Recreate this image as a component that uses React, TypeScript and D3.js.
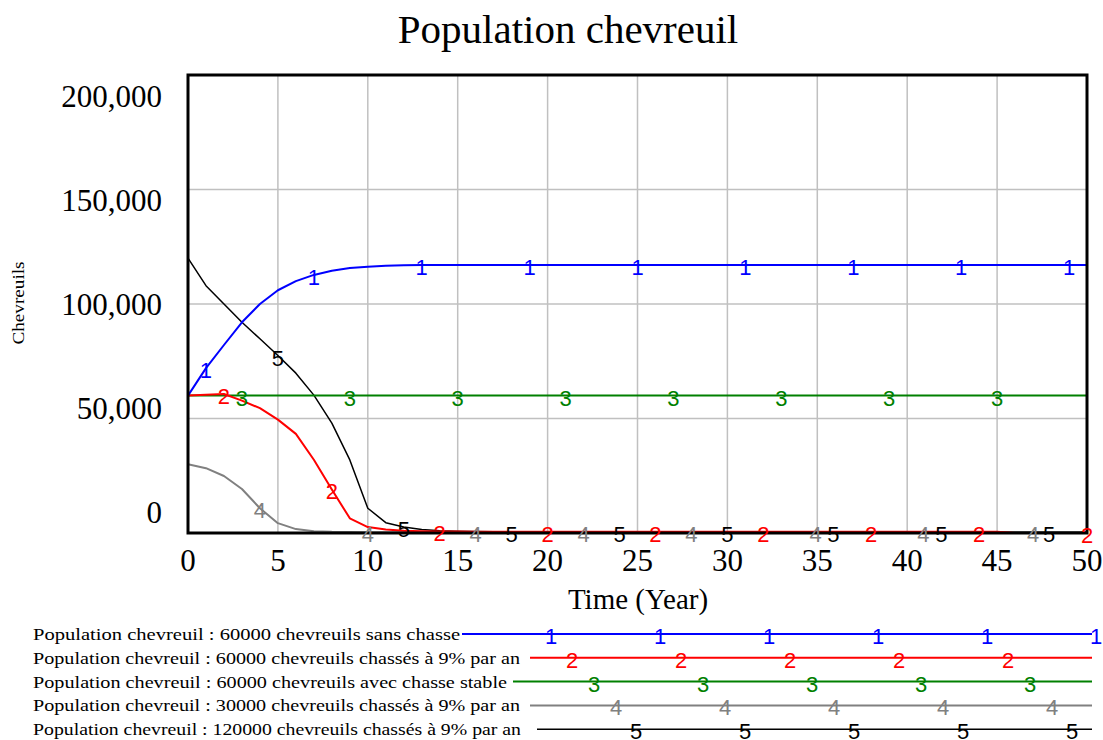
import React from "react";
import * as d3 from "d3";

const years: number[] = d3.range(0, 51);

const seriesNames = [
  "Population chevreuil : 60000 chevreuils sans chasse",
  "Population chevreuil : 60000 chevreuils chassés à 9% par an",
  "Population chevreuil : 60000 chevreuils avec chasse stable",
  "Population chevreuil : 30000 chevreuils chassés à 9% par an",
  "Population chevreuil : 120000 chevreuils chassés à 9% par an",
];

const sansChasse60k = [
  60000, 72000, 82100, 92000, 100000, 106000, 110000, 112700, 114500, 115700,
  116300, 116700, 116900, 117000, 117000, 117000, 117000, 117000, 117000, 117000,
  117000, 117000, 117000, 117000, 117000, 117000, 117000, 117000, 117000, 117000,
  117000, 117000, 117000, 117000, 117000, 117000, 117000, 117000, 117000, 117000,
  117000, 117000, 117000, 117000, 117000, 117000, 117000, 117000, 117000, 117000,
  117000,
];

const chasse9_60k = [
  60000, 60400, 60700, 57800, 54500, 49500, 43300, 32000, 19000, 6400,
  2600, 1500, 1000, 800, 700, 650, 600, 600, 600, 600,
  600, 600, 600, 600, 600, 600, 600, 600, 600, 600,
  600, 600, 600, 600, 600, 600, 600, 600, 600, 600,
  600, 600, 600, 600, 600, 600, 0, 0, 0, 0,
  0,
];

const chasseStable60k = [
  60000, 60000, 60000, 60000, 60000, 60000, 60000, 60000, 60000, 60000,
  60000, 60000, 60000, 60000, 60000, 60000, 60000, 60000, 60000, 60000,
  60000, 60000, 60000, 60000, 60000, 60000, 60000, 60000, 60000, 60000,
  60000, 60000, 60000, 60000, 60000, 60000, 60000, 60000, 60000, 60000,
  60000, 60000, 60000, 60000, 60000, 60000, 60000, 60000, 60000, 60000,
  60000,
];

const chasse9_30k = [
  30000, 28300, 24900, 19200, 10800, 4300, 1700, 800, 500, 400,
  350, 300, 300, 300, 300, 300, 300, 300, 300, 300,
  300, 300, 300, 300, 300, 300, 300, 300, 300, 300,
  300, 300, 300, 300, 300, 300, 300, 300, 300, 300,
  300, 300, 300, 300, 300, 300, 300, 300, 300, 300,
  300,
];

const chasse9_120k = [
  120000, 108000, 100000, 92000, 84800, 77500, 69800, 60200, 48000, 31900,
  10800, 4500, 2600, 1500, 1000, 800, 700, 600, 600, 600,
  600, 600, 600, 600, 600, 600, 600, 600, 600, 600,
  600, 600, 600, 600, 600, 600, 600, 600, 600, 600,
  600, 600, 600, 600, 600, 600, 600, 600, 600, 600,
  600,
];

const seriesValues = [sansChasse60k, chasse9_60k, chasseStable60k, chasse9_30k, chasse9_120k];
const seriesLabels = ["1", "2", "3", "4", "5"];
const seriesColors = ["#0000ff", "#ff0000", "#008000", "#808080", "#000000"];
const seriesWidths = [2, 2, 2, 2, 1.5];

// years at which the series number is written on the curve
const labelYears = [
  [1, 7, 13, 19, 25, 31, 37, 43, 49],
  [2, 8, 14, 20, 26, 32, 38, 44, 50],
  [3, 9, 15, 21, 27, 33, 39, 45],
  [4, 10, 16, 22, 28, 34.9, 40.9, 47],
  [5, 12, 18, 24, 30, 35.9, 41.9, 47.9],
];

const yTicks = [0, 50000, 100000, 150000, 200000];
const xTicks = [0, 5, 10, 15, 20, 25, 30, 35, 40, 45, 50];

const title = "Population chevreuil";
const xTitle = "Time (Year)";
const yTitle = "Chevreuils";

// legend layout
const legendTextRight = [460, 520, 507, 520, 521];
const legendLineStart = [462, 530, 513, 530, 537];
const legendMarkerStart = [551, 572, 594, 616, 636];
const legendMarkerCount = [6, 5, 5, 5, 5];

export default function App() {
  const W = 1103;
  const H = 740;
  const left = 188;
  const right = 1087;
  const top = 75;
  const bottom = 533;

  const x = d3.scaleLinear().domain([0, 50]).range([left, right]);
  const y = d3.scaleLinear().domain([0, 200000]).range([bottom, top]);
  const yLab = d3.scaleLinear().domain([0, 200000]).range([513, 97]);

  const line = d3
    .line<number>()
    .x((_, i) => x(years[i]))
    .y((d) => y(d));

  const valueAt = (vals: number[], t: number) => {
    const i0 = Math.floor(t);
    const i1 = Math.min(50, i0 + 1);
    const f = t - i0;
    return vals[i0] * (1 - f) + vals[i1] * f;
  };

  const order = [4, 3, 2, 1, 0];

  return (
    <svg
      width={W}
      height={H}
      style={{ position: "absolute", left: 0, top: 0, background: "#fff" }}
    >
      <rect x={0} y={0} width={W} height={H} fill="#fff" />
      <text
        x={568}
        y={43}
        textAnchor="middle"
        fontFamily="'Liberation Serif', 'Times New Roman', serif"
        fontSize={41}
        fill="#000"
      >
        {title}
      </text>

      {/* grid */}
      {xTicks.slice(1, -1).map((t) => (
        <line key={"gx" + t} x1={x(t)} x2={x(t)} y1={top} y2={bottom} stroke="#c0c0c0" strokeWidth={1.5} />
      ))}
      {yTicks.slice(1, -1).map((t) => (
        <line key={"gy" + t} x1={left} x2={right} y1={y(t)} y2={y(t)} stroke="#c0c0c0" strokeWidth={1.5} />
      ))}

      {/* series */}
      {order.map((s) => (
        <path
          key={"p" + s}
          d={line(seriesValues[s]) || ""}
          fill="none"
          stroke={seriesColors[s]}
          strokeWidth={seriesWidths[s]}
          strokeLinejoin="round"
        />
      ))}

      {/* frame */}
      <rect x={left} y={top} width={right - left} height={bottom - top} fill="none" stroke="#000" strokeWidth={3} />

      {order.map((s) =>
        labelYears[s].map((t, k) => (
          <text
            key={"l" + s + "-" + k}
            x={x(t)}
            y={y(valueAt(seriesValues[s], t)) + 10}
            textAnchor="middle"
            fontFamily="'Liberation Sans', Arial, sans-serif"
            fontSize={22}
            fill={seriesColors[s]}
          >
            {seriesLabels[s]}
          </text>
        ))
      )}

      {/* y tick labels */}
      {yTicks.map((t) => (
        <text
          key={"yt" + t}
          x={162}
          y={yLab(t) + 10}
          textAnchor="end"
          fontFamily="'Liberation Serif', 'Times New Roman', serif"
          fontSize={31}
          fill="#000"
        >
          {d3.format(",")(t)}
        </text>
      ))}

      {/* x tick labels */}
      {xTicks.map((t) => (
        <text
          key={"xt" + t}
          x={x(t)}
          y={571}
          textAnchor="middle"
          fontFamily="'Liberation Serif', 'Times New Roman', serif"
          fontSize={31}
          fill="#000"
        >
          {t}
        </text>
      ))}

      <text
        x={638}
        y={609}
        textAnchor="middle"
        fontFamily="'Liberation Serif', 'Times New Roman', serif"
        fontSize={29}
        fill="#000"
      >
        {xTitle}
      </text>

      <text
        transform="translate(24,303) rotate(-90)"
        textAnchor="middle"
        fontFamily="'Liberation Serif', 'Times New Roman', serif"
        fontSize={17}
        textLength={83}
        lengthAdjust="spacingAndGlyphs"
        fill="#000"
      >
        {yTitle}
      </text>

      {/* legend */}
      {seriesNames.map((name, s) => {
        const ly = 634 + s * 23.8;
        return (
          <g key={"lg" + s}>
            <text
              x={33}
              y={ly + 6}
              fontFamily="'Liberation Serif', 'Times New Roman', serif"
              fontSize={17}
              textLength={legendTextRight[s] - 33}
              lengthAdjust="spacingAndGlyphs"
              fill="#000"
            >
              {name}
            </text>
            <line
              x1={legendLineStart[s]}
              x2={1092}
              y1={ly}
              y2={ly}
              stroke={seriesColors[s]}
              strokeWidth={seriesWidths[s]}
            />
            {d3.range(legendMarkerCount[s]).map((k) => (
              <text
                key={"lm" + k}
                x={legendMarkerStart[s] + k * 109}
                y={ly + 10}
                textAnchor="middle"
                fontFamily="'Liberation Sans', Arial, sans-serif"
                fontSize={22}
                fill={seriesColors[s]}
              >
                {seriesLabels[s]}
              </text>
            ))}
          </g>
        );
      })}
    </svg>
  );
}
